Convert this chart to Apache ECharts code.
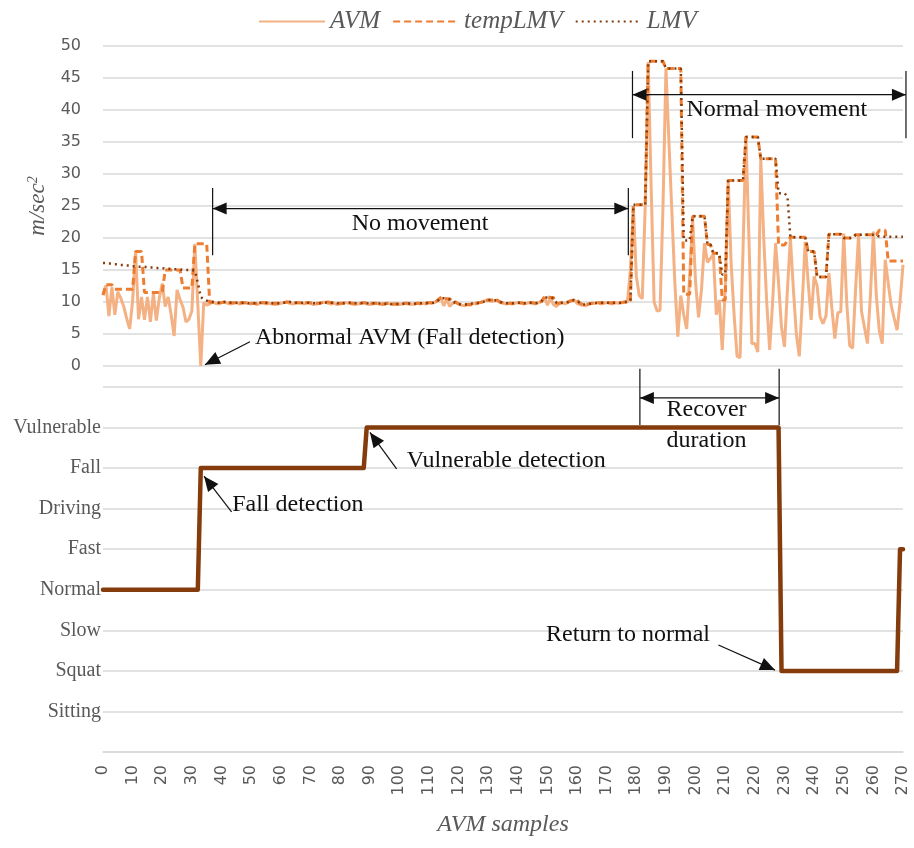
<!DOCTYPE html>
<html><head><meta charset="utf-8">
<script src="https://cdn.jsdelivr.net/npm/echarts@6/dist/echarts.min.js"></script>
<style>html,body{margin:0;padding:0;background:#fff}#c{width:914px;height:848px}</style>
</head><body><div id="c"></div>
<script>
// ---------- DATA (sample index = array position, 0..270) ----------
const avm = [
 11.1,12.6,7.8,12.3,8.0,11.6,10.6,9.3,7.4,5.8,
 10.2,17.9,7.3,10.8,7.2,10.8,6.9,11.4,7.1,10.6,
 12.9,9.3,10.8,8.0,4.7,11.9,10.4,9.2,6.9,7.3,
 8.6,19.1,9.6,0.0,9.9,9.5,
 9.7,10.0,9.8,9.7,9.9,10.0,9.8,9.7,9.8,9.9,
 9.7,9.8,9.9,9.8,9.7,9.8,9.6,9.8,9.9,9.7,
 9.8,9.7,9.6,9.7,9.8,9.9,10.0,9.8,9.7,9.8,
 9.9,9.8,9.7,9.9,9.8,9.6,9.7,9.8,9.9,10.0,
 9.8,9.7,9.8,9.6,9.7,9.8,9.9,9.8,9.7,9.6,
 9.7,9.8,9.9,9.7,9.6,9.7,9.8,9.7,9.6,9.7,
 9.8,9.7,9.6,9.7,9.6,9.7,9.8,9.7,9.6,9.7,
 9.8,9.7,9.8,9.7,9.9,9.8,9.9,10.3,10.7,9.4,
 10.5,9.3,9.8,10.0,9.7,9.5,9.4,9.6,9.5,9.8,
 9.7,9.9,10.0,10.2,10.3,10.1,10.2,10.3,9.9,9.8,
 9.7,9.8,9.7,9.8,9.9,9.8,9.7,9.8,9.9,9.8,
 9.7,9.9,10.1,10.8,9.5,10.7,9.6,9.3,9.8,9.9,
 9.7,10.0,10.2,10.3,9.8,9.6,9.5,9.4,9.7,9.8,
 9.8,9.9,9.7,9.8,9.9,9.8,9.7,9.9,9.8,9.9,
 10.0,10.0,
 15.0,25.0,14.0,11.0,10.5,25.0,47.5,28.0,10.0,8.6,
 8.7,25.0,46.5,35.0,24.0,13.0,4.6,11.0,8.0,5.8,
 14.0,23.0,13.0,7.6,12.0,19.2,16.2,16.8,17.5,8.0,
 10.3,2.5,12.0,29.0,16.0,8.0,1.5,1.3,18.0,35.8,
 20.0,3.5,3.5,2.2,32.4,20.0,10.0,2.5,10.0,19.2,
 13.0,6.0,3.0,12.0,19.9,12.0,5.0,1.5,10.0,19.4,
 13.0,7.2,14.0,12.6,7.7,6.6,7.8,14.5,9.0,4.3,
 8.3,8.5,20.7,10.0,3.2,2.8,12.0,20.5,8.5,6.0,
 3.5,11.0,21.0,11.0,5.5,3.5,16.6,13.0,9.5,7.5,
 5.6,10.0,15.8
];
const tempLMV = [
 11.1,12.7,12.7,12.7,12.0,12.0,12.0,12.0,12.0,12.0,
 12.0,17.9,17.9,17.9,11.5,11.5,11.5,11.5,11.5,11.5,
 11.5,15.0,15.0,15.0,15.0,15.0,15.0,12.2,12.2,12.2,
 12.2,19.1,19.1,19.1,19.1,19.1,
 9.9,10.0,10.0,9.9,9.9,10.0,10.0,9.9,9.9,9.9,
 9.9,9.9,9.9,9.9,9.8,9.8,9.8,9.9,9.9,9.9,
 9.8,9.8,9.8,9.8,9.8,9.9,10.0,10.0,9.9,9.9,
 9.9,9.9,9.9,9.9,9.9,9.8,9.8,9.8,9.9,10.0,
 10.0,9.9,9.9,9.8,9.8,9.8,9.9,9.9,9.8,9.8,
 9.8,9.8,9.9,9.9,9.8,9.8,9.8,9.8,9.7,9.7,
 9.8,9.8,9.7,9.7,9.7,9.7,9.8,9.8,9.7,9.7,
 9.8,9.8,9.8,9.8,9.9,9.9,9.9,10.3,10.7,10.7,
 10.5,10.5,10.0,10.0,9.7,9.6,9.6,9.6,9.6,9.8,
 9.8,9.9,10.0,10.2,10.3,10.3,10.3,10.3,10.0,9.9,
 9.8,9.8,9.8,9.8,9.9,9.9,9.8,9.8,9.9,9.9,
 9.8,9.9,10.1,10.8,10.8,10.7,10.7,9.8,9.8,9.9,
 9.9,10.0,10.2,10.3,10.3,9.8,9.6,9.6,9.7,9.8,
 9.8,9.9,9.9,9.9,9.9,9.9,9.9,9.9,9.9,9.9,
 10.0,10.0,
 10.2,25.2,25.2,25.2,25.2,25.2,47.6,47.6,47.6,47.6,
 47.6,47.6,46.5,46.5,46.5,46.5,46.5,46.5,11.2,11.2,
 11.2,23.4,23.4,23.4,23.4,23.4,19.0,19.0,17.6,17.6,
 17.6,10.3,10.3,29.0,29.0,29.0,29.0,29.0,29.0,35.8,
 35.8,35.8,35.8,35.8,32.4,32.4,32.4,32.4,32.4,32.4,
 18.9,18.9,18.9,19.6,20.1,20.1,20.1,20.1,20.1,20.1,
 17.9,17.9,17.9,13.9,13.9,13.9,13.9,20.6,20.6,20.6,
 20.6,20.6,20.0,20.0,20.0,20.0,20.5,20.5,20.5,20.5,
 20.5,20.5,20.5,20.5,21.2,21.2,21.2,16.4,16.4,16.4,
 16.4,16.4,16.4
];
const lmv = [
 16.1,16.1,16.0,16.0,15.9,15.9,15.8,15.8,15.7,15.7,
 15.6,15.6,15.5,15.5,15.5,15.4,15.4,15.4,15.3,15.3,
 15.3,15.2,15.2,15.2,15.1,15.1,15.1,15.0,15.0,15.0,
 15.0,14.9,13.0,10.8,10.4,10.2,
 10.0,10.0,9.9,9.9,9.9,10.0,10.0,9.9,9.9,9.9,
 9.9,9.9,9.9,9.8,9.8,9.8,9.8,9.9,9.9,9.9,
 9.8,9.8,9.8,9.8,9.8,9.9,9.9,10.0,9.9,9.9,
 9.9,9.9,9.9,9.9,9.8,9.8,9.8,9.8,9.9,9.9,
 10.0,9.9,9.9,9.8,9.8,9.8,9.9,9.9,9.8,9.8,
 9.8,9.8,9.9,9.8,9.8,9.8,9.8,9.8,9.7,9.7,
 9.8,9.7,9.7,9.7,9.7,9.7,9.8,9.8,9.7,9.7,
 9.8,9.8,9.8,9.8,9.9,9.9,9.9,10.2,10.6,10.6,
 10.5,10.4,10.0,9.9,9.7,9.6,9.6,9.6,9.7,9.8,
 9.8,9.9,10.0,10.1,10.3,10.3,10.3,10.2,10.0,9.9,
 9.8,9.8,9.8,9.8,9.9,9.9,9.8,9.8,9.9,9.9,
 9.8,9.9,10.1,10.7,10.7,10.7,10.6,9.9,9.8,9.9,
 9.9,10.0,10.2,10.3,10.2,9.8,9.6,9.6,9.7,9.8,
 9.8,9.9,9.9,9.9,9.9,9.9,9.9,9.9,9.9,9.9,
 10.0,10.0,
 10.2,25.2,25.2,25.2,25.2,25.2,47.6,47.6,47.6,47.6,
 47.6,47.6,46.5,46.5,46.5,46.5,46.5,46.5,19.6,19.6,
 19.6,23.4,23.4,23.4,23.4,23.4,19.0,19.0,17.6,17.6,
 17.6,14.3,14.3,29.0,29.0,29.0,29.0,29.0,29.0,35.8,
 35.8,35.8,35.8,35.8,32.4,32.4,32.4,32.4,32.4,32.4,
 27.0,27.0,27.0,26.5,20.1,20.1,20.1,20.1,20.1,20.1,
 17.9,17.9,17.9,13.9,13.9,13.9,13.9,20.6,20.6,20.6,
 20.6,20.6,20.0,20.0,20.0,20.0,20.5,20.5,20.5,20.5,
 20.5,20.5,20.5,20.5,20.2,20.2,20.2,20.2,20.2,20.2,
 20.2,20.2,20.2
];
// activity state: level names (bottom to top) and the state change points
const stateLevels = ['', 'Sitting', 'Squat', 'Slow', 'Normal', 'Fast', 'Driving', 'Fall', 'Vulnerable', ''];
const stateX = [0, 32, 33, 88, 89, 228, 229, 268, 269, 270];
const stateY = ['Normal', 'Normal', 'Fall', 'Fall', 'Vulnerable', 'Vulnerable', 'Squat', 'Squat', 'Fast', 'Fast'];
const legendNames = ['AVM', 'tempLMV', 'LMV'];

// ---------- ANNOTATIONS (data coordinates) ----------
const annoBrackets = [
  {g: 0, x1: 37, x2: 177.3, y: 24.6, yLo: 17.3, yHi: 27.8},
  {g: 0, x1: 178.7, x2: 271, y: 42.4, yLo: 35.6, yHi: 46.1},
  {g: 1, x1: 181.2, x2: 228.2, y: 8.73, yLo: 8.06, yHi: 9.45}
];
const annoArrows = [
  {g: 0, from: [49.6, 3.8], to: [34.4, 0.2]},
  {g: 1, from: [43.4, 5.92], to: [34.1, 6.8]},
  {g: 1, from: [99.1, 6.98], to: [90.1, 7.88]},
  {g: 1, from: [207.7, 2.64], to: [226.8, 2.02]}
];
const annoTexts = [
  {g: 0, at: [107, 22.2], text: 'No movement', align: 'center'},
  {g: 0, at: [227.4, 40.0], text: 'Normal movement', align: 'center'},
  {g: 0, at: [51.3, 4.4], text: 'Abnormal AVM (Fall detection)', align: 'left'},
  {g: 1, at: [203.7, 8.43], text: 'Recover', align: 'center'},
  {g: 1, at: [203.7, 7.67], text: 'duration', align: 'center'},
  {g: 1, at: [43.6, 6.11], text: 'Fall detection', align: 'left'},
  {g: 1, at: [102.5, 7.19], text: 'Vulnerable detection', align: 'left'},
  {g: 1, at: [177.2, 2.88], text: 'Return to normal', align: 'center'}
];

// ---------- CHART ----------
const gray = '#595959', gridC = '#D9D9D9';
const pts = arr => arr.map((v, i) => [i, v]);
const chart = echarts.init(document.getElementById('c'), null, {renderer: 'canvas'});
const serifItalic = {fontFamily: 'Liberation Serif', fontStyle: 'italic', color: gray};
const option = {
  animation: false,
  backgroundColor: '#fff',
  legend: {
    data: legendNames, left: 253, top: 4, itemWidth: 66, itemHeight: 14, itemGap: 12,
    itemStyle: {opacity: 0},
    textStyle: Object.assign({fontSize: 25}, serifItalic)
  },
  grid: [
    {left: 103, right: 11, top: 46, height: 320},
    {left: 103, right: 11, top: 387, height: 365}
  ],
  xAxis: [
    {type: 'value', gridIndex: 0, min: 0, max: 270, interval: 10,
     axisLine: {show: false}, axisTick: {show: false}, axisLabel: {show: false}, splitLine: {show: false}},
    {type: 'value', gridIndex: 1, min: 0, max: 270, interval: 10,
     axisLine: {show: true, lineStyle: {color: gridC, width: 1.5}}, axisTick: {show: false},
     axisLabel: {rotate: 90, fontFamily: 'DejaVu Sans', fontSize: 16, color: gray, margin: 13},
     splitLine: {show: false},
     name: 'AVM samples', nameLocation: 'middle', nameGap: 61,
     nameTextStyle: Object.assign({fontSize: 24}, serifItalic)}
  ],
  yAxis: [
    {type: 'value', gridIndex: 0, min: 0, max: 50, interval: 5,
     axisLine: {show: false}, axisTick: {show: false},
     axisLabel: {fontFamily: 'DejaVu Sans', fontSize: 16, color: gray, margin: 22},
     splitLine: {lineStyle: {color: gridC, width: 1.5}},
     name: '{i|m/sec}{s|2}', nameLocation: 'middle', nameGap: 50,
     nameTextStyle: {rich: {
       i: Object.assign({fontSize: 23}, serifItalic),
       s: Object.assign({fontSize: 14, verticalAlign: 'top'}, serifItalic)
     }}},
    {type: 'value', gridIndex: 1, min: 0, max: 9, interval: 1,
     axisLine: {show: false}, axisTick: {show: false},
     axisLabel: {formatter: v => stateLevels[v] || '', fontFamily: 'Liberation Serif', fontSize: 20, color: gray, margin: 2},
     splitLine: {lineStyle: {color: gridC, width: 1.5}}}
  ],
  series: [
    {name: 'AVM', type: 'line', xAxisIndex: 0, yAxisIndex: 0, data: pts(avm), symbol: 'none',
     lineStyle: {color: '#F4B183', width: 3}, itemStyle: {color: '#F4B183'}, z: 2},
    {name: 'tempLMV', type: 'line', xAxisIndex: 0, yAxisIndex: 0, data: pts(tempLMV), symbol: 'none',
     lineStyle: {color: '#ED7D31', width: 3, type: [7, 4]}, itemStyle: {color: '#ED7D31'}, z: 3},
    {name: 'LMV', type: 'line', xAxisIndex: 0, yAxisIndex: 0, data: pts(lmv), symbol: 'none',
     lineStyle: {color: '#843C0C', width: 2.5, type: [2, 4]}, itemStyle: {color: '#843C0C'}, z: 4},
    {name: 'State', type: 'line', xAxisIndex: 1, yAxisIndex: 1, symbol: 'none',
     data: stateX.map((x, i) => [x, stateLevels.indexOf(stateY[i])]),
     lineStyle: {color: '#843C0C', width: 4.5, cap: 'round', join: 'round'}, itemStyle: {color: '#843C0C'}, z: 5}
  ]
};
chart.setOption(option);

// annotation graphics through the grids' own scales
const P = (g, c) => chart.convertToPixel({gridIndex: g}, c);
const black = '#111';
function seg(a, b, w) {
  return {type: 'line', silent: true, z: 50, shape: {x1: a[0], y1: a[1], x2: b[0], y2: b[1]}, style: {stroke: black, lineWidth: w || 1}};
}
function head(tip, from, len, hw) {
  const dx = tip[0] - from[0], dy = tip[1] - from[1], d = Math.hypot(dx, dy);
  const ux = dx / d, uy = dy / d, bx = tip[0] - ux * len, by = tip[1] - uy * len;
  return {type: 'polygon', silent: true, z: 51,
    shape: {points: [tip, [bx - uy * hw, by + ux * hw], [bx + uy * hw, by - ux * hw]]}, style: {fill: black}};
}
const gfx = [];
annoBrackets.forEach(b => {
  const l = P(b.g, [b.x1, b.y]), r = P(b.g, [b.x2, b.y]);
  gfx.push(seg(P(b.g, [b.x1, b.yLo]), P(b.g, [b.x1, b.yHi]), 1.2));
  gfx.push(seg(P(b.g, [b.x2, b.yLo]), P(b.g, [b.x2, b.yHi]), 1.2));
  gfx.push(seg(l, r, 1.2));
  gfx.push(head(l, r, 14, 6));
  gfx.push(head(r, l, 14, 6));
});
annoArrows.forEach(a => {
  const f = P(a.g, a.from), t = P(a.g, a.to);
  gfx.push(seg(f, t, 1.2));
  gfx.push(head(t, f, 15, 6.5));
});
annoTexts.forEach(t => {
  const p = P(t.g, t.at);
  gfx.push({type: 'text', silent: true, z: 52, style: {
    text: t.text, x: p[0], y: p[1], fill: black,
    font: '24px "Liberation Serif"', align: t.align, verticalAlign: 'middle',
    textAlign: t.align, textVerticalAlign: 'middle'}});
});
chart.setOption({graphic: gfx});
</script>
</body></html>
